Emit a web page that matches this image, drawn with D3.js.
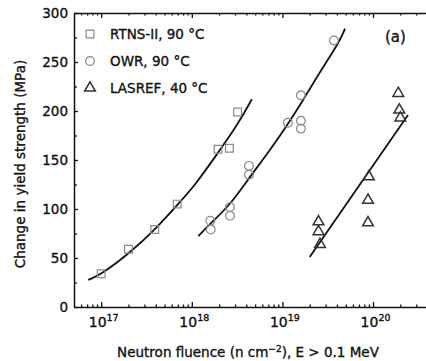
<!DOCTYPE html>
<html>
<head>
<meta charset="utf-8">
<script src="https://cdn.jsdelivr.net/npm/d3@7"></script>
<style>
  body { margin: 0; background: #fff; }
  text { font-family: "DejaVu Sans", "Liberation Sans", sans-serif; fill: #111; stroke: #111; stroke-width: 0.35; }
</style>
</head>
<body>
<div id="chart"></div>
<script>
// measured points (n/cm2, MPa)
var rtnsFluence = [1.0e17, 2.0e17, 3.9e17, 6.9e17, 1.95e18, 2.6e18, 3.2e18];
var rtnsDelta   = [34, 59, 79, 105, 161, 162, 199];

var owrFluence = [1.6e18, 1.62e18, 2.64e18, 2.64e18, 4.27e18, 4.27e18, 1.15e19, 1.6e19, 1.6e19, 1.6e19, 3.7e19];
var owrDelta   = [88, 79, 102, 93, 144, 135, 188, 216, 190, 182, 272];

var lasrefFluence = [2.5e19, 2.5e19, 2.6e19, 9.0e19, 8.8e19, 8.8e19, 1.9e20, 1.95e20, 2.0e20];
var lasrefDelta   = [87, 77, 64, 133, 109, 86, 218, 201, 193];

// fitted curves
var rtnsFitFluence = [7.2e16, 9.8e16, 2.0e17, 3.9e17, 6.9e17, 1.09e18, 1.8e18, 3.2e18, 4.6e18];
var rtnsFitDelta   = [27.6, 32.7, 54, 78.6, 104, 124.5, 153, 185.7, 212];

var owrFitFluence = [1.18e18, 1.58e18, 2.64e18, 4.27e18, 7.3e18, 1.15e19, 1.69e19, 2.6e19, 4.35e19, 4.9e19];
var owrFitDelta   = [72.4, 84.7, 104, 131.6, 160, 186.7, 211, 240, 272, 284];

var lasrefFitFluence = [2.0e19, 2.43e20];
var lasrefFitDelta   = [51, 196];

var yTicks = [0, 50, 100, 150, 200, 250, 300];
var yMinorTicks = [25, 75, 125, 175, 225, 275];
var xDecades = [1e17, 1e18, 1e19, 1e20];
var xExponents = ["17", "18", "19", "20"];

var legendNames = ["RTNS-II, 90 \u00B0C", "OWR, 90 \u00B0C", "LASREF, 40 \u00B0C"];

var width = 426, height = 361;
var margin = {left: 74, top: 13};
var plotBottom = 307, plotRight = 441;

var svg = d3.select("#chart").append("svg")
    .attr("width", width)
    .attr("height", height);

var x = d3.scaleLog()
    .domain([Math.pow(10, 16.7), Math.pow(10, 20.75)])
    .range([margin.left, plotRight]);

var y = d3.scaleLinear()
    .domain([0, 300])
    .range([plotBottom, margin.top]);

var xMinor = [];
for (var e = 16; e <= 20; e++) {
  for (var m = 2; m <= 9; m++) {
    var v = m * Math.pow(10, e);
    if (v > x.domain()[0] && v < x.domain()[1]) xMinor.push(v);
  }
}

// axes
var yAxis = svg.append("g")
    .attr("transform", "translate(" + margin.left + ",0)")
    .call(d3.axisLeft(y).tickValues(yTicks).tickSize(-4).tickSizeOuter(0).tickPadding(6));
svg.append("g")
    .attr("transform", "translate(" + margin.left + ",0)")
    .call(d3.axisLeft(y).tickValues(yMinorTicks).tickSize(-3).tickFormat(""))
    .select(".domain").remove();

var xAxis = svg.append("g")
    .attr("transform", "translate(0," + plotBottom + ")")
    .call(d3.axisBottom(x).tickValues(xDecades).tickSize(-5).tickSizeOuter(0).tickPadding(8).tickFormat(""));
svg.append("g")
    .attr("transform", "translate(0," + plotBottom + ")")
    .call(d3.axisBottom(x).tickValues(xMinor).tickSize(-2.5).tickFormat(""))
    .select(".domain").remove();

svg.append("g")
    .attr("transform", "translate(0," + margin.top + ")")
    .call(d3.axisTop(x).tickValues(xDecades).tickSize(-5).tickSizeOuter(0).tickFormat(""));
svg.append("g")
    .attr("transform", "translate(0," + margin.top + ")")
    .call(d3.axisTop(x).tickValues(xMinor).tickSize(-2.5).tickFormat(""))
    .select(".domain").remove();

svg.selectAll(".domain").attr("stroke", "#111").attr("stroke-width", 1.5);
svg.selectAll(".tick line").attr("stroke", "#111").attr("stroke-width", 1.3);

yAxis.selectAll(".tick text")
    .attr("font-size", 13.5)
    .attr("font-family", null)
    .attr("fill", "#111");

// decade labels with superscripts
xAxis.selectAll(".tick").each(function (d, i) {
  var t = d3.select(this).append("text")
      .attr("y", 20)
      .attr("x", 2)
      .attr("text-anchor", "middle")
      .attr("font-size", 14);
  t.append("tspan").text("10");
  t.append("tspan").attr("dy", -6).attr("font-size", 9.5).text(xExponents[i]);
});

// axis titles
svg.append("text")
    .attr("transform", "translate(25,164) rotate(-90)")
    .attr("text-anchor", "middle")
    .attr("font-size", 13.5)
    .text("Change in yield strength (MPa)");

var xt = svg.append("text")
    .attr("x", 248)
    .attr("y", 357)
    .attr("text-anchor", "middle")
    .attr("font-size", 13.5);
xt.append("tspan").text("Neutron fluence (n cm");
xt.append("tspan").attr("dy", -5).attr("font-size", 9).text("\u22122");
xt.append("tspan").attr("dy", 5).text("), E > 0.1 MeV");

svg.append("text")
    .attr("x", 385)
    .attr("y", 42)
    .attr("font-size", 15)
    .text("(a)");

// fitted lines
var line = d3.line()
    .x(function (d) { return x(d[0]); })
    .y(function (d) { return y(d[1]); })
    .curve(d3.curveBasis);

var fits = [
  d3.zip(rtnsFitFluence, rtnsFitDelta),
  d3.zip(owrFitFluence, owrFitDelta),
  d3.zip(lasrefFitFluence, lasrefFitDelta)
];
svg.selectAll(".fit")
    .data(fits)
    .enter().append("path")
    .attr("class", "fit")
    .attr("d", line)
    .attr("fill", "none")
    .attr("stroke", "#111")
    .attr("stroke-width", 1.8);

// markers
var square = d3.symbol().type(d3.symbolSquare).size(60);
var circle = d3.symbol().type(d3.symbolCircle).size(60);
var triangle = d3.symbol().type(d3.symbolTriangle).size(50);

function drawSeries(fl, vals, sym, col, sw) {
  svg.append("g").selectAll("path")
      .data(d3.zip(fl, vals))
      .enter().append("path")
      .attr("d", sym)
      .attr("transform", function (d) { return "translate(" + x(d[0]) + "," + y(d[1]) + ")"; })
      .attr("fill", "none")
      .attr("stroke", col)
      .attr("stroke-width", sw);
}
drawSeries(rtnsFluence, rtnsDelta, square, "#8a8a8a", 1.2);
drawSeries(owrFluence, owrDelta, circle, "#8a8a8a", 1.2);
drawSeries(lasrefFluence, lasrefDelta, triangle, "#333", 1.5);

// legend
var legSyms = [square, circle, triangle];
var legCols = ["#8a8a8a", "#8a8a8a", "#333"];
var leg = svg.selectAll(".leg")
    .data(legendNames)
    .enter().append("g")
    .attr("class", "leg")
    .attr("transform", function (d, i) { return "translate(90," + (34 + i * 27) + ")"; });
leg.append("path")
    .attr("d", function (d, i) { return legSyms[i](); })
    .attr("fill", "none")
    .attr("stroke", function (d, i) { return legCols[i]; })
    .attr("stroke-width", function (d, i) { return i === 2 ? 1.5 : 1.2; });
leg.append("text")
    .attr("x", 20)
    .attr("y", 5)
    .attr("font-size", 13.5)
    .text(function (d) { return d; });
</script>
</body>
</html>
